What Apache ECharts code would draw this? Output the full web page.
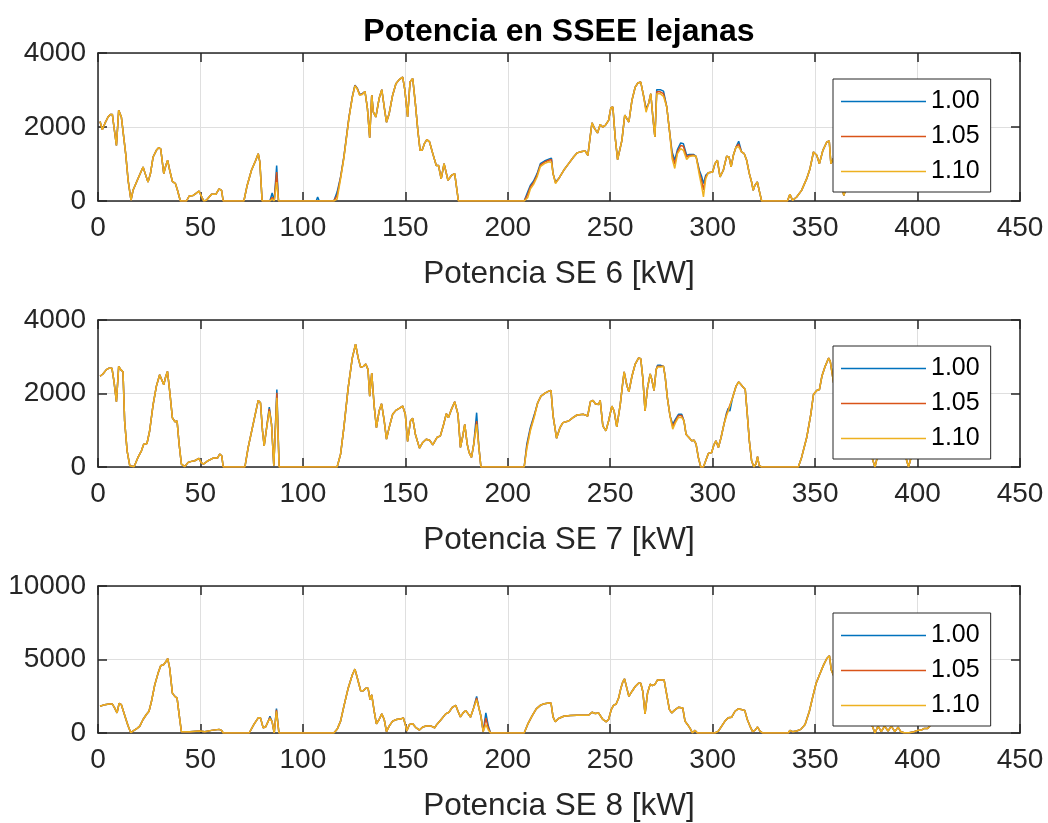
<!DOCTYPE html>
<html>
<head>
<meta charset="utf-8">
<script src="https://cdn.jsdelivr.net/npm/echarts@6/dist/echarts.min.js"></script>
<style>
  html, body { margin: 0; padding: 0; background: #fff; }
  #chart { width: 1048px; height: 823px; }
</style>
</head>
<body>
<div id="chart"></div>
<script>
// Power at the remote substations (kW), three scaling factors each.
const seriesNames = ['1.00', '1.05', '1.10'];
const seriesColors = ['#0072BD', '#D95319', '#EDB120'];
const panelLabels = ['Potencia SE 6 [kW]', 'Potencia SE 7 [kW]', 'Potencia SE 8 [kW]'];
const xTicks = [0, 50, 100, 150, 200, 250, 300, 350, 400, 450];

// ---- SE 6 ----
const se6X = [
  1, 2.1, 3.3, 4.9, 6, 7, 7.8, 9, 10.1, 11.4,
  12.2, 13.5, 14.7, 16.1, 17.1, 19.5, 22, 22.8, 24.4, 25.6,
  26.9, 28.5, 29.6, 30.6, 32.1, 33.1, 34, 35, 36.3, 37.8,
  38.8, 40.2, 43.2, 44.5, 46.4, 47.7, 49.3, 50.5, 51.6, 52.9,
  55.4, 57.5, 59.1, 60.3, 61.1, 71.2, 72.8, 74.9, 77, 78.2,
  79, 80.1, 83.9, 85, 86, 87.2, 88.1, 106.5, 107.2, 108,
  115.1, 116.7, 118.4, 120, 122.5, 124.1, 125.4, 126.6, 127.7, 129,
  130.3, 131.5, 132.6, 133.6, 134.4, 135.6, 137.2, 138.5, 139.7, 140.8,
  142.1, 143.8, 145.4, 147, 148.7, 149.8, 151.1, 152.3, 153.6, 154.9,
  156.1, 157.2, 158.2, 159.3, 160.5, 161.8, 163.4, 165.1, 166.2, 167.5,
  168.9, 169.7, 170.8, 172.5, 174.1, 174.9, 175.9, 208, 209.7, 211,
  212.6, 214.3, 215.9, 217.9, 220, 221.3, 222.1, 223.3, 224.8, 227.3,
  229.7, 232.1, 233.8, 236.2, 237.8, 239.1, 240.3, 241.1, 242.4, 243.8,
  245.1, 246.3, 247.6, 249.2, 250.3, 251.3, 252.4, 253.6, 254.4, 255.7,
  257.1, 258.1, 259.1, 260.6, 262.2, 263.5, 264.9, 266.2, 267.5, 268.7,
  269.8, 270.8, 271.8, 272.7, 274.4, 276, 277.6, 278.9, 280.2, 281.5,
  282.8, 284.4, 285.7, 287.3, 288.6, 290.6, 291.9, 293.5, 294.6, 295.5,
  296.6, 297.9, 300, 301.1, 302.3, 303.6, 305.2, 306.8, 308, 309,
  310.1, 311.4, 312.7, 314.1, 315.4, 316.6, 317.9, 319, 319.8, 320.6,
  321.8, 322.7, 323.9, 336.5, 337.7, 339, 341, 343.4, 345.9, 347.5,
  349.2, 350.8, 352.1, 353.8, 355.7, 356.9, 357.7, 359, 361, 362.5,
  364, 365.5, 368, 371, 375, 379, 383, 387, 391, 395,
  399, 403, 407, 410
];
const se6_100 = [
  2150, 1930, 2090, 2270, 2340, 2340, 2000, 1500, 2450, 2270,
  2220, 1280, 560, 20, 290, 600, 920, 780, 510, 740,
  1190, 1370, 1440, 1410, 740, 960, 1100, 830, 530, 470,
  290, 0, 0, 135, 150, 200, 270, 125, 0, 20,
  180, 180, 330, 290, 0, 0, 420, 830, 1100, 1280,
  1050, 0, 0, 215, 0, 960, 0, 0, 110, 0,
  0, 240, 650, 1190, 2270, 2810, 3130, 3040, 2880, 2900,
  2960, 2500, 1710, 2860, 2400, 2270, 2770, 3010, 2540, 2130,
  2360, 2860, 3170, 3280, 3350, 2990, 2270, 3220, 3310, 2630,
  1910, 1370, 1370, 1550, 1660, 1600, 1280, 960, 960, 600,
  1010, 1050, 560, 690, 740, 690, 0, 0, 240, 420,
  540, 740, 1010, 1080, 1130, 1160, 740, 510, 600, 830,
  1010, 1190, 1300, 1340, 1350, 1235, 1775, 2110, 1955, 1840,
  2070, 2000, 2045, 2180, 2520, 2540, 1730, 1120, 1100, 1640,
  2320, 2225, 2135, 2720, 3080, 3190, 3215, 2860, 2500, 2630,
  2900, 2270, 1730, 3010, 3010, 2970, 2540, 1910, 1325, 1100,
  1390, 1570, 1550, 1235, 1260, 1260, 1207, 830, 670, 470,
  694, 766, 784, 1010, 1100, 650, 830, 1207, 1190, 920,
  1235, 1460, 1613, 1325, 1280, 1100, 740, 514, 288, 423,
  514, 288, 0, 0, 180, 18, 108, 288, 604, 874,
  1325, 1235, 1009, 1370, 1595, 1622, 1009, 1150, 900, 500,
  150, 400, 800, 650, 900, 700, 850, 600, 750, 500,
  800, 900, 700, 600
];
const se6_105 = [
  2150, 1930, 2090, 2270, 2340, 2340, 2000, 1500, 2450, 2270,
  2220, 1280, 560, 20, 290, 600, 920, 780, 510, 740,
  1190, 1370, 1440, 1410, 740, 960, 1100, 830, 530, 470,
  290, 0, 0, 135, 150, 200, 270, 125, 0, 20,
  180, 180, 330, 290, 0, 0, 420, 830, 1100, 1280,
  1050, 0, 0, 100, 0, 780, 0, 0, 40, 0,
  0, 150, 640, 1180, 2260, 2800, 3120, 3030, 2870, 2890,
  2960, 2500, 1710, 2860, 2400, 2270, 2770, 3010, 2540, 2130,
  2360, 2860, 3170, 3280, 3350, 2990, 2270, 3220, 3310, 2630,
  1910, 1370, 1370, 1550, 1660, 1600, 1280, 960, 960, 600,
  1010, 1050, 560, 690, 740, 690, 0, 0, 180, 380,
  500, 700, 970, 1050, 1100, 1120, 740, 490, 600, 830,
  1010, 1190, 1300, 1340, 1350, 1235, 1775, 2110, 1955, 1840,
  2070, 2000, 2045, 2180, 2520, 2540, 1730, 1120, 1100, 1640,
  2320, 2225, 2135, 2720, 3080, 3190, 3215, 2860, 2450, 2630,
  2900, 2270, 1730, 2950, 2950, 2900, 2540, 1910, 1250, 1000,
  1330, 1500, 1480, 1190, 1230, 1240, 1207, 780, 550, 300,
  650, 766, 784, 1010, 1100, 650, 830, 1207, 1190, 920,
  1235, 1460, 1540, 1325, 1280, 1100, 740, 514, 288, 423,
  514, 288, 0, 0, 180, 18, 108, 288, 604, 874,
  1325, 1235, 1009, 1370, 1595, 1622, 1009, 1150, 900, 500,
  150, 400, 800, 650, 900, 700, 850, 600, 750, 500,
  800, 900, 700, 600
];
const se6_110 = [
  2150, 1930, 2090, 2270, 2340, 2340, 2000, 1500, 2450, 2270,
  2220, 1280, 560, 20, 290, 600, 920, 780, 510, 740,
  1190, 1370, 1440, 1410, 740, 960, 1100, 830, 530, 470,
  290, 0, 0, 135, 150, 200, 270, 125, 0, 20,
  180, 180, 330, 290, 0, 0, 420, 830, 1100, 1280,
  1050, 0, 0, 50, 0, 510, 0, 0, 0, 0,
  0, 50, 600, 1160, 2240, 2790, 3110, 3020, 2860, 2880,
  2960, 2500, 1710, 2860, 2400, 2270, 2770, 3010, 2540, 2130,
  2360, 2860, 3170, 3280, 3350, 2990, 2270, 3220, 3310, 2630,
  1910, 1370, 1370, 1550, 1660, 1600, 1280, 960, 960, 600,
  1010, 1050, 560, 690, 740, 690, 0, 0, 90, 320,
  450, 650, 930, 1010, 1060, 1050, 740, 470, 600, 830,
  1010, 1190, 1300, 1340, 1350, 1235, 1775, 2110, 1955, 1840,
  2070, 2000, 2045, 2180, 2520, 2540, 1730, 1120, 1100, 1640,
  2320, 2225, 2135, 2720, 3080, 3190, 3215, 2860, 2400, 2630,
  2900, 2270, 1730, 2900, 2900, 2830, 2540, 1910, 1150, 880,
  1280, 1415, 1370, 1120, 1200, 1220, 1207, 700, 400, 110,
  600, 766, 784, 1010, 1100, 650, 830, 1207, 1190, 920,
  1235, 1460, 1460, 1325, 1280, 1100, 740, 514, 288, 423,
  514, 288, 0, 0, 180, 18, 108, 288, 604, 874,
  1325, 1235, 1009, 1370, 1595, 1622, 1009, 1150, 900, 500,
  150, 400, 800, 650, 900, 700, 850, 600, 750, 500,
  800, 900, 700, 600
];

// ---- SE 7 ----
const se7X = [
  1, 2.4, 4.1, 5.4, 6.8, 7.8, 9, 10.1, 11.1, 12.2,
  13, 14.2, 15.5, 17.6, 19.5, 21.2, 22.3, 23.9, 25.2, 26.9,
  28.5, 30.1, 30.9, 32.1, 33.1, 33.9, 35, 36.3, 37.6, 38.6,
  39.6, 40.7, 42.3, 44, 45.6, 47.2, 49.3, 50.5, 51.6, 53.7,
  56.2, 58.3, 59.4, 60.4, 61.1, 71.7, 73.3, 75.7, 78.2, 79.3,
  80.3, 81.1, 82.2, 83.6, 84.7, 85.8, 86.5, 87.3, 88.4, 116.7,
  118.4, 120, 122.1, 124.1, 125.7, 127, 128.2, 129.5, 130.7, 131.8,
  132.6, 133.6, 134.8, 135.9, 137.2, 138.4, 139.7, 140.8, 142.1, 143.8,
  145.4, 147, 148.7, 150, 151.1, 152.5, 153.6, 154.9, 156.9, 158.5,
  160.2, 161.8, 163.4, 164.3, 165.4, 167.1, 168.7, 170, 171, 172.5,
  174.1, 174.9, 175.7, 176.9, 177.9, 179, 180.2, 181.1, 182.3, 183.4,
  184.8, 185.9, 186.9, 208, 209.3, 211, 213, 214.6, 216.2, 218.4,
  220, 221.1, 222.1, 223.8, 225.5, 226.9, 229.7, 231.8, 233.8, 237,
  239, 240.3, 241.6, 242.7, 244.3, 245.1, 246.4, 247.9, 249.2, 250.8,
  251.9, 253.2, 254.9, 256.2, 256.8, 258.1, 259.1, 260.6, 262.2, 263.8,
  264.9, 265.9, 267, 268.2, 269.5, 270.3, 271.4, 272.4, 273.1, 274.7,
  276, 276.8, 277.9, 279.2, 280.5, 281.8, 283.3, 284.9, 286, 287,
  288.1, 289.8, 290.9, 291.9, 293, 294.2, 295.5, 296.6, 297.9, 299.5,
  300.6, 301.6, 302.8, 304.1, 305.5, 306.8, 307.6, 308.4, 309.7, 311.4,
  312.7, 313.8, 314.9, 315.9, 316.9, 317.9, 319, 320.1, 321.1, 321.9,
  322.7, 323.9, 341.8, 343.4, 345.9, 347.9, 349.2, 350.8, 352.1, 353.3,
  354.9, 356.6, 357.4, 359, 361, 364, 368, 372, 375, 377.9,
  379.2, 380.5, 383, 386, 389, 392, 394.4, 395.6, 396.8, 399,
  402, 405, 408, 410
];
const se7_100 = [
  2470, 2530, 2650, 2690, 2690, 2330, 1775, 2740, 2650, 2590,
  1250, 440, 36, 9, 260, 440, 620, 640, 980, 1700,
  2200, 2510, 2540, 2240, 2470, 2600, 2060, 1340, 1230, 1250,
  620, 80, 9, 126, 153, 171, 234, 108, 81, 171,
  243, 243, 351, 306, 0, 0, 532, 1162, 1811, 1748,
  982, 577, 1027, 1630, 1162, 36, 0, 2108, 0, 0,
  351, 1072, 2153, 2964, 3343, 2964, 2712, 2739, 2802, 2649,
  1928, 2559, 1658, 1072, 1523, 1721, 1252, 757, 1072, 1433,
  1541, 1595, 1658, 1433, 694, 1252, 1325, 892, 514, 667,
  757, 730, 604, 577, 802, 847, 1162, 1451, 1343, 1568,
  1775, 1775, 1433, 532, 802, 1162, 622, 396, 261, 622,
  1478, 532, 0, 0, 622, 1072, 1433, 1748, 1928, 2018,
  2063, 2081, 1400, 784, 1072, 1207, 1252, 1343, 1415, 1433,
  1388, 1775, 1811, 1721, 1703, 1811, 1117, 982, 1252, 1658,
  1523, 1090, 1703, 2334, 2586, 2225, 2045, 2469, 2802, 2964,
  2946, 2424, 1523, 2153, 2532, 2379, 2081, 2649, 2766, 2766,
  2739, 2469, 1883, 1388, 1162, 1298, 1433, 1433, 1252, 892,
  820, 712, 730, 622, 261, 0, 0, 171, 369, 396,
  604, 712, 532, 802, 1162, 1478, 1595, 1523, 1883, 2198,
  2316, 2243, 2171, 2108, 1433, 712, 171, 0, 81, 279,
  36, 0, 0, 261, 802, 1433, 1973, 2081, 2108, 2469,
  2739, 2964, 2874, 2300, 1900, 1600, 1300, 1000, 700, 234,
  0, 300, 800, 600, 900, 600, 240, 0, 250, 700,
  900, 1100, 900, 800
];
const se7_105 = [
  2470, 2530, 2650, 2690, 2690, 2330, 1775, 2740, 2650, 2590,
  1250, 440, 36, 9, 260, 440, 620, 640, 980, 1700,
  2200, 2510, 2540, 2240, 2470, 2600, 2060, 1340, 1230, 1250,
  620, 80, 9, 126, 153, 171, 234, 108, 81, 171,
  243, 243, 351, 306, 0, 0, 532, 1162, 1811, 1748,
  982, 577, 1027, 1580, 1162, 36, 0, 2018, 0, 0,
  351, 1072, 2153, 2964, 3343, 2964, 2712, 2739, 2802, 2649,
  1928, 2559, 1658, 1072, 1523, 1721, 1252, 757, 1072, 1433,
  1541, 1595, 1658, 1433, 694, 1252, 1325, 892, 514, 667,
  757, 730, 604, 577, 802, 847, 1162, 1451, 1343, 1568,
  1775, 1775, 1433, 532, 802, 1162, 622, 396, 261, 622,
  1252, 532, 0, 0, 560, 1020, 1400, 1748, 1928, 2018,
  2063, 2081, 1400, 784, 1072, 1207, 1252, 1343, 1415, 1433,
  1388, 1775, 1811, 1721, 1703, 1811, 1117, 982, 1252, 1658,
  1523, 1090, 1703, 2334, 2586, 2225, 2045, 2469, 2802, 2964,
  2946, 2424, 1523, 2153, 2532, 2379, 2081, 2649, 2740, 2740,
  2739, 2469, 1883, 1388, 1100, 1250, 1400, 1400, 1252, 892,
  820, 712, 730, 622, 261, 0, 0, 171, 369, 396,
  604, 712, 532, 802, 1162, 1440, 1560, 1523, 1883, 2198,
  2316, 2243, 2171, 2108, 1433, 712, 171, 0, 81, 279,
  36, 0, 0, 261, 802, 1433, 1973, 2081, 2108, 2469,
  2739, 2964, 2874, 2300, 1900, 1600, 1300, 1000, 700, 234,
  0, 300, 800, 600, 900, 600, 240, 0, 250, 700,
  900, 1100, 900, 800
];
const se7_110 = [
  2470, 2530, 2650, 2690, 2690, 2330, 1775, 2740, 2650, 2590,
  1250, 440, 36, 9, 260, 440, 620, 640, 980, 1700,
  2200, 2510, 2540, 2240, 2470, 2600, 2060, 1340, 1230, 1250,
  620, 80, 9, 126, 153, 171, 234, 108, 81, 171,
  243, 243, 351, 306, 0, 0, 532, 1162, 1811, 1748,
  982, 577, 1027, 1520, 1162, 36, 0, 1883, 0, 0,
  351, 1072, 2153, 2964, 3343, 2964, 2712, 2739, 2802, 2649,
  1928, 2559, 1658, 1072, 1523, 1721, 1252, 757, 1072, 1433,
  1541, 1595, 1658, 1433, 694, 1252, 1325, 892, 514, 667,
  757, 730, 604, 577, 802, 847, 1162, 1451, 1343, 1568,
  1775, 1775, 1433, 532, 802, 1162, 622, 396, 261, 622,
  1162, 532, 0, 0, 500, 980, 1370, 1748, 1928, 2018,
  2063, 2081, 1400, 784, 1072, 1207, 1252, 1343, 1415, 1433,
  1388, 1775, 1811, 1721, 1703, 1811, 1117, 982, 1252, 1658,
  1523, 1090, 1703, 2334, 2586, 2225, 2045, 2469, 2802, 2964,
  2946, 2424, 1523, 2153, 2532, 2379, 2081, 2649, 2720, 2720,
  2739, 2469, 1883, 1388, 1030, 1200, 1350, 1350, 1252, 892,
  820, 712, 730, 622, 261, 0, 0, 171, 369, 396,
  604, 712, 532, 802, 1162, 1400, 1520, 1523, 1883, 2198,
  2316, 2243, 2171, 2108, 1433, 712, 171, 0, 81, 279,
  36, 0, 0, 261, 802, 1433, 1973, 2081, 2108, 2469,
  2739, 2964, 2874, 2300, 1900, 1600, 1300, 1000, 700, 234,
  0, 300, 800, 600, 900, 600, 240, 0, 250, 700,
  900, 1100, 900, 800
];

// ---- SE 8 ----
const se8X = [
  1, 3.3, 5.4, 7, 8.1, 9.3, 10.3, 11.4, 12.2, 13.4,
  14.7, 16, 17.6, 19.1, 20.4, 22, 23.6, 24.9, 26.1, 27.7,
  29.3, 30.6, 32.1, 33.1, 34, 35, 36.3, 37.5, 38.6, 39.6,
  40.7, 41.5, 44.8, 49.7, 52.1, 55.4, 59.1, 60.3, 61.1, 73.8,
  76.1, 78.2, 79.3, 80.6, 81.8, 83.1, 83.9, 85, 86, 87.1,
  88.3, 115.1, 116.7, 118.4, 120, 122.1, 124.1, 125.4, 126.6, 128.2,
  129.5, 130.7, 131.8, 132.8, 133.6, 134.8, 135.9, 137.2, 138.5, 139.7,
  140.8, 142.1, 143.8, 145.7, 147.9, 149, 150, 150.7, 152, 153.6,
  155.2, 156.9, 158.5, 160.2, 162.6, 164.3, 165.4, 167.5, 169.7, 171.3,
  172.9, 174.6, 175.7, 176.9, 178.2, 179.5, 180.7, 181.8, 183.1, 184.8,
  185.9, 186.9, 188, 189.3, 190.5, 191.6, 208, 209.7, 211.8, 213.9,
  215.9, 217.9, 220, 221.1, 222.1, 223.2, 224.8, 227.3, 230.5, 233.8,
  237, 239.4, 241.1, 242.7, 244.3, 245.1, 246.4, 248.1, 249.2, 250.5,
  251.6, 252.9, 254.1, 255.2, 256.2, 257, 258.1, 259.1, 260.6, 262.2,
  263.8, 264.9, 265.9, 267, 268.2, 269.5, 270.6, 271.9, 273.1, 275.2,
  276.3, 277.6, 278.9, 280, 281.7, 283.3, 285.4, 286.5, 287.7, 289,
  290.1, 291.4, 292.5, 301.1, 302.8, 304.4, 306, 307.6, 309.3, 310.9,
  312.5, 314.1, 315.7, 316.9, 318.2, 319.5, 320.6, 321.9, 323.1, 324.4,
  336.9, 337.7, 339, 341, 343, 345.1, 347.2, 348.9, 350.5, 352.1,
  354.1, 355.7, 357, 357.9, 360, 363, 366, 369, 372, 375,
  377.9, 379.2, 380.7, 382.3, 383.9, 385.6, 387.2, 388.9, 390.5, 391.8,
  393.4, 395.9, 398.4, 400, 401.6, 403.3, 404.9, 406.6, 408, 410
];
const se8_100 = [
  1816, 1928, 1973, 1973, 1704, 1368, 2018, 1928, 1816, 1031,
  471, 22, 179, 314, 471, 919, 1256, 1480, 2152, 3273,
  4058, 4574, 4663, 4843, 5067, 4394, 2713, 2489, 2377, 1256,
  90, 22, 90, 134, 90, 179, 247, 179, 0, 0,
  583, 1031, 1031, 359, 404, 807, 1143, 762, 0, 1659,
  0, 0, 247, 807, 1816, 3049, 3946, 4349, 3722, 2870,
  2870, 3049, 3049, 2264, 2601, 1480, 628, 919, 1300, 919,
  90, 471, 807, 919, 964, 1031, 583, 134, 583, 628,
  359, 202, 404, 471, 471, 359, 583, 919, 1300, 1412,
  1749, 1883, 1480, 1099, 1368, 1525, 1300, 1076, 1592, 2489,
  1704, 1143, 90, 1368, 471, 0, 0, 583, 1143, 1637,
  1883, 1995, 2040, 2040, 1100, 762, 986, 1143, 1188, 1211,
  1211, 1211, 1412, 1323, 1368, 1368, 919, 762, 919, 1592,
  1883, 1973, 2377, 3049, 3497, 3677, 3049, 2489, 2825, 3161,
  3385, 3385, 2825, 1300, 2713, 3318, 3228, 3318, 3609, 3609,
  3609, 2601, 1592, 1368, 1592, 1749, 1704, 807, 583, 314,
  0, 179, 0, 0, 134, 471, 807, 1031, 1076, 1480,
  1637, 1592, 1525, 919, 471, 90, 179, 404, 134, 0,
  0, 179, 90, 134, 247, 583, 1480, 2489, 3385, 3946,
  4619, 5067, 5246, 4282, 3600, 2700, 2000, 1500, 1100, 800,
  470, 0, 470, 90, 470, 134, 470, 90, 400, 90,
  22, 22, 90, 179, 179, 314, 314, 583, 800, 900
];
const se8_105 = [
  1816, 1928, 1973, 1973, 1704, 1368, 2018, 1928, 1816, 1031,
  471, 22, 179, 314, 471, 919, 1256, 1480, 2152, 3273,
  4058, 4574, 4663, 4843, 5067, 4394, 2713, 2489, 2377, 1256,
  90, 22, 90, 134, 90, 179, 247, 179, 0, 0,
  583, 1031, 1031, 359, 404, 807, 1050, 762, 0, 1570,
  0, 0, 247, 807, 1816, 3049, 3946, 4349, 3722, 2870,
  2870, 3049, 3049, 2264, 2601, 1480, 628, 919, 1300, 919,
  90, 471, 807, 919, 964, 1031, 583, 134, 583, 628,
  359, 202, 404, 471, 471, 359, 583, 919, 1300, 1412,
  1749, 1883, 1480, 1099, 1368, 1525, 1300, 1076, 1592, 2380,
  1704, 1143, 90, 1031, 350, 0, 0, 583, 1143, 1637,
  1883, 1995, 2040, 2040, 1100, 762, 986, 1143, 1188, 1211,
  1211, 1211, 1412, 1323, 1368, 1368, 919, 762, 919, 1592,
  1883, 1973, 2377, 3049, 3497, 3677, 3049, 2489, 2825, 3161,
  3385, 3385, 2825, 1300, 2713, 3318, 3228, 3318, 3609, 3609,
  3609, 2601, 1592, 1368, 1592, 1749, 1704, 807, 583, 314,
  0, 179, 0, 0, 134, 471, 807, 1031, 1076, 1480,
  1637, 1592, 1525, 919, 471, 90, 179, 404, 134, 0,
  0, 179, 90, 134, 247, 583, 1480, 2489, 3385, 3946,
  4619, 5067, 5246, 4282, 3600, 2700, 2000, 1500, 1100, 800,
  470, 0, 470, 90, 470, 134, 470, 90, 400, 90,
  22, 22, 90, 179, 179, 314, 314, 583, 800, 900
];
const se8_110 = [
  1816, 1928, 1973, 1973, 1704, 1368, 2018, 1928, 1816, 1031,
  471, 22, 179, 314, 471, 919, 1256, 1480, 2152, 3273,
  4058, 4574, 4663, 4843, 5067, 4394, 2713, 2489, 2377, 1256,
  90, 22, 90, 134, 90, 179, 247, 179, 0, 0,
  583, 1031, 1031, 359, 404, 807, 980, 762, 0, 1480,
  0, 0, 247, 807, 1816, 3049, 3946, 4349, 3722, 2870,
  2870, 3049, 3049, 2264, 2601, 1480, 628, 919, 1300, 919,
  90, 471, 807, 919, 964, 1031, 583, 134, 583, 628,
  359, 202, 404, 471, 471, 359, 583, 919, 1300, 1412,
  1749, 1883, 1480, 1099, 1368, 1525, 1300, 1076, 1592, 2264,
  1704, 1143, 90, 583, 200, 0, 0, 583, 1143, 1637,
  1883, 1995, 2040, 2040, 1100, 762, 986, 1143, 1188, 1211,
  1211, 1211, 1412, 1323, 1368, 1368, 919, 762, 919, 1592,
  1883, 1973, 2377, 3049, 3497, 3677, 3049, 2489, 2825, 3161,
  3385, 3385, 2825, 1300, 2713, 3318, 3228, 3318, 3609, 3609,
  3609, 2601, 1592, 1368, 1592, 1749, 1704, 807, 583, 314,
  0, 179, 0, 0, 134, 471, 807, 1031, 1076, 1480,
  1637, 1592, 1525, 919, 471, 90, 179, 404, 134, 0,
  0, 179, 90, 134, 247, 583, 1480, 2489, 3385, 3946,
  4619, 5067, 5246, 4282, 3600, 2700, 2000, 1500, 1100, 800,
  470, 0, 470, 90, 470, 134, 470, 90, 400, 90,
  22, 22, 90, 179, 179, 314, 314, 583, 800, 900
];

const yTicks6 = [0, 2000, 4000];
const yTicks7 = [0, 2000, 4000];
const yTicks8 = [0, 5000, 10000];

const panels = [
  { x: se6X, ys: [se6_100, se6_105, se6_110], yTicks: yTicks6, top: 53, height: 148, legendTop: 79 },
  { x: se7X, ys: [se7_100, se7_105, se7_110], yTicks: yTicks7, top: 320, height: 147, legendTop: 346 },
  { x: se8X, ys: [se8_100, se8_105, se8_110], yTicks: yTicks8, top: 586, height: 150, legendTop: 613 }
];

const FONT = 'Arial, "Liberation Sans", Helvetica, sans-serif';
const INK = '#262626';

const grid = [], xAxis = [], yAxis = [], series = [], legend = [];

function boxLine() {
  return { show: true, onZero: false, lineStyle: { color: INK, width: 1.5 } };
}
function boxTick() {
  return { show: true, inside: true, length: 9, lineStyle: { color: INK, width: 1.5 } };
}

panels.forEach((p, i) => {
  grid.push({ left: 98, width: 922, top: p.top, height: p.height, containLabel: false });
  const yMax = p.yTicks[p.yTicks.length - 1];
  const yStep = p.yTicks[1] - p.yTicks[0];
  // bottom axis with labels and name
  xAxis.push({
    type: 'value', gridIndex: i, position: 'bottom',
    min: xTicks[0], max: xTicks[xTicks.length - 1], interval: xTicks[1] - xTicks[0],
    axisLine: boxLine(), axisTick: boxTick(),
    axisLabel: { color: INK, fontSize: 28, fontFamily: FONT, margin: 13 },
    splitLine: { show: true, lineStyle: { color: '#dfdfdf', width: 1 } },
    name: panelLabels[i], nameLocation: 'middle', nameGap: 57,
    nameTextStyle: { color: INK, fontSize: 31.5, fontFamily: FONT }
  });
  // top edge of the box
  xAxis.push({
    type: 'value', gridIndex: i, position: 'top',
    min: xTicks[0], max: xTicks[xTicks.length - 1], interval: xTicks[1] - xTicks[0],
    axisLine: boxLine(), axisTick: boxTick(), axisLabel: { show: false }, splitLine: { show: false }
  });
  yAxis.push({
    type: 'value', gridIndex: i, position: 'left',
    min: 0, max: yMax, interval: yStep,
    axisLine: boxLine(), axisTick: boxTick(),
    axisLabel: { color: INK, fontSize: 28, fontFamily: FONT, margin: 12, formatter: v => String(v) },
    splitLine: { show: true, lineStyle: { color: '#dfdfdf', width: 1 } }
  });
  // right edge of the box
  yAxis.push({
    type: 'value', gridIndex: i, position: 'right',
    min: 0, max: yMax, interval: yStep,
    axisLine: boxLine(), axisTick: boxTick(), axisLabel: { show: false }, splitLine: { show: false }
  });
  p.ys.forEach((ys, k) => {
    series.push({
      type: 'line', name: seriesNames[k],
      xAxisIndex: i * 2, yAxisIndex: i * 2,
      data: p.x.map((x, j) => [x, ys[j]]),
      symbol: 'none', smooth: false,
      lineStyle: { color: seriesColors[k], width: 1.5 },
      itemStyle: { color: seriesColors[k] },
      z: 2
    });
  });
  legend.push({
    data: seriesNames, orient: 'vertical', left: 833, top: p.legendTop, z: 20,
    padding: [10, 11, 8, 8], itemGap: 10, itemWidth: 85, itemHeight: 1.5,
    icon: 'rect', selectedMode: false,
    backgroundColor: '#fff', borderColor: INK, borderWidth: 1,
    textStyle: { color: '#000', fontSize: 25, lineHeight: 25, fontFamily: FONT }
  });
});

const chart = echarts.init(document.getElementById('chart'), null, { renderer: 'canvas' });
chart.setOption({
  animation: false,
  backgroundColor: '#fff',
  textStyle: { fontFamily: FONT },
  title: {
    text: 'Potencia en SSEE lejanas', left: 559, top: 16, textAlign: 'center', padding: 0,
    textStyle: { color: '#000', fontSize: 32, fontWeight: 'bold', fontFamily: FONT }
  },
  grid, xAxis, yAxis, series, legend
});
</script>
</body>
</html>
